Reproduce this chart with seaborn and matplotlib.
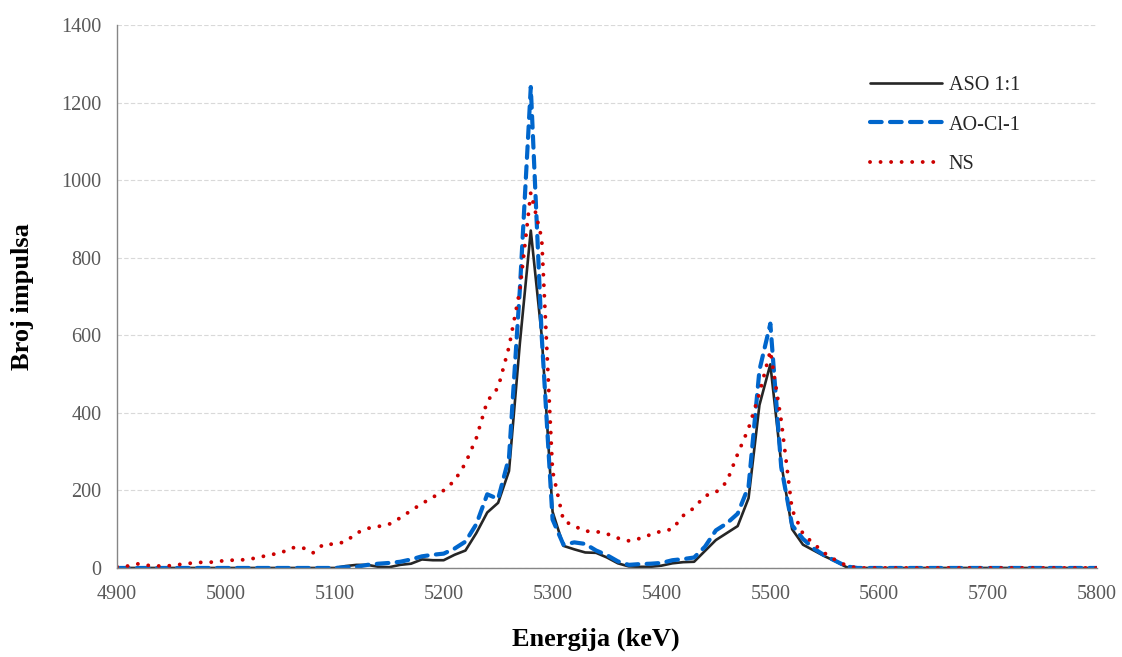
import seaborn as sns
import matplotlib.pyplot as plt

# Energija u keV (svakih 10 keV)
energija = list(range(4900, 5810, 10))

# Broj impulsa za svaki uzorak (ocitano sa grafika)
aso = [0, 0, 0, 0, 0, 0, 0, 0, 0, 0,
       0, 0, 0, 0, 0, 0, 0, 0, 0, 0,
       0, 5, 8, 8, 3, 2, 8, 11, 22, 20,
       20, 34, 45, 90, 143, 168, 250, 580, 870, 600,
       145, 57, 48, 40, 39, 27, 12, 4, 3, 3,
       6, 12, 15, 16, 44, 72, 90, 108, 180, 420,
       525, 270, 100, 60, 45, 30, 17, 2, 0, 0,
       0, 0, 0, 0, 0, 0, 0, 0, 0, 0,
       0, 0, 0, 0, 0, 0, 0, 0, 0, 0, 0]
ao_cl = [0, 0, 0, 0, 0, 0, 0, 0, 0, 0,
         0, 0, 0, 0, 0, 0, 0, 0, 0, 0,
         0, 2, 3, 8, 11, 13, 16, 22, 30, 34,
         37, 50, 68, 113, 190, 178, 285, 720, 1240, 600,
         125, 60, 66, 62, 45, 33, 17, 8, 10, 11,
         13, 20, 23, 27, 55, 97, 115, 140, 210, 510,
         630, 260, 110, 75, 50, 32, 18, 4, 0, 0,
         0, 0, 0, 0, 0, 0, 0, 0, 0, 0,
         0, 0, 0, 0, 0, 0, 0, 0, 0, 0, 0]
ns = [3, 5, 11, 6, 5, 6, 10, 13, 15, 15,
      20, 20, 22, 27, 34, 38, 52, 53, 39, 62,
      61, 68, 90, 102, 107, 113, 129, 148, 166, 182,
      200, 225, 270, 335, 430, 465, 570, 717, 968, 850,
      250, 122, 108, 95, 94, 88, 77, 70, 76, 86,
      95, 100, 135, 155, 186, 195, 222, 294, 360, 450,
      560, 380, 150, 88, 62, 38, 20, 6, 0, 0,
      0, 0, 0, 0, 0, 0, 0, 0, 0, 0,
      0, 0, 0, 0, 0, 0, 0, 0, 0, 0, 0]

sns.set_style("white")
plt.rcParams['font.family'] = ['Liberation Serif', 'DejaVu Serif']

fig = plt.figure(figsize=(11.22, 6.57), dpi=100)
ax = fig.add_axes([0.1043, 0.1355, 0.8734, 0.8265])

serije = [
    ("ASO 1:1", aso, "#262626", dict(lw=1.9, linestyle="-")),
    ("AO-Cl-1", ao_cl, "#0066CC", dict(lw=3.0, linestyle=(0, (2.8, 2.0)), dash_capstyle="round")),
    ("NS", ns, "#CC0000", dict(lw=2.8, linestyle=(0, (0.01, 2.7)), dash_capstyle="round")),
]
for naziv, vrijednosti, boja, stil in serije:
    sns.lineplot(x=energija, y=vrijednosti, color=boja, label=naziv, ax=ax, **stil)

ax.set_xlim(4900, 5800)
ax.set_ylim(0, 1400)
ax.set_xticks(range(4900, 5801, 100))
ax.set_yticks(range(0, 1401, 200))
ax.tick_params(axis='both', color='#868686', labelcolor='#595959', labelsize=14.5,
               direction='out', length=5, width=1)
ax.tick_params(axis='x', pad=7)
ax.tick_params(axis='y', pad=6)

ax.yaxis.grid(True, color='#d9d9d9', linestyle=(0, (4, 2)), lw=0.8)
ax.xaxis.grid(False)
ax.set_axisbelow(True)

for s in ['top', 'right']:
    ax.spines[s].set_visible(False)
for s in ['left', 'bottom']:
    ax.spines[s].set_color('#868686')
    ax.spines[s].set_linewidth(1.0)

ax.set_xlabel("Energija (keV)", fontsize=19, fontweight='bold', color='black')
ax.xaxis.set_label_coords(0.489, -0.11)
ax.set_ylabel("Broj impulsa", fontsize=19, fontweight='bold', color='black')
ax.yaxis.set_label_coords(-0.085, 0.5)

ax.legend(loc='upper left', bbox_to_anchor=(0.7754, 0.884), bbox_transform=fig.transFigure,
          frameon=False, fontsize=14.5, handlelength=3.6, handletextpad=0.3,
          labelspacing=1.0, borderpad=0, borderaxespad=0)

fig.savefig('out.png', dpi=100)
